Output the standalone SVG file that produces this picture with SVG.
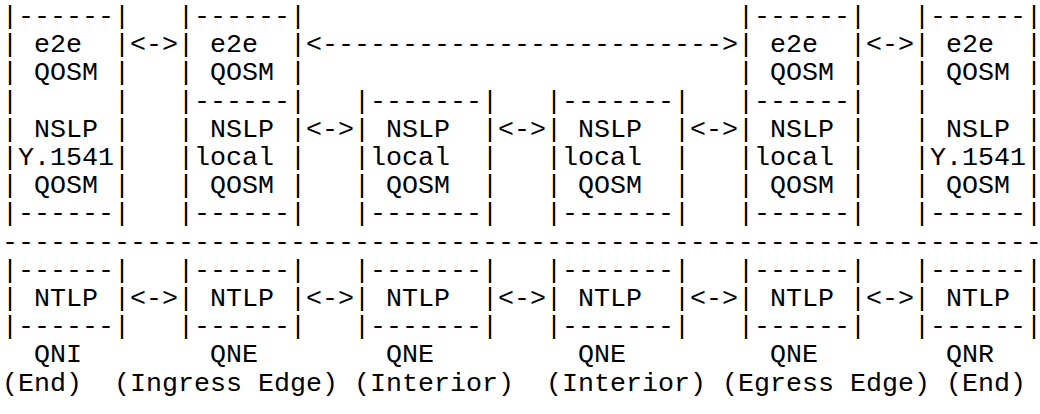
<svg xmlns="http://www.w3.org/2000/svg" width="1040" height="414" viewBox="0 0 1040 414">
<style>
text{font-family:"Liberation Mono","Courier New",monospace;font-size:26.667px;fill:#000;white-space:pre}
</style>
<rect width="1040" height="414" fill="#fff"/>
<g id="qni-qosm" xml:space="preserve">
<text x="2" y="24">|------|</text>
<text x="2" y="52.2">| e2e  |</text>
<text x="2" y="80.4">| QOSM |</text>
<text x="2" y="108.6">|      |</text>
<text x="2" y="136.8">| NSLP |</text>
<text x="2" y="165">|Y.1541|</text>
<text x="2" y="193.2">| QOSM |</text>
<text x="2" y="221.4">|------|</text>
</g>
<g id="qne-ingress-qosm" xml:space="preserve">
<text x="178" y="24">|------|</text>
<text x="178" y="52.2">| e2e  |</text>
<text x="178" y="80.4">| QOSM |</text>
<text x="178" y="108.6">|------|</text>
<text x="178" y="136.8">| NSLP |</text>
<text x="178" y="165">|local |</text>
<text x="178" y="193.2">| QOSM |</text>
<text x="178" y="221.4">|------|</text>
</g>
<g id="qne-interior1-qosm" xml:space="preserve">
<text x="354" y="108.6">|-------|</text>
<text x="354" y="136.8">| NSLP  |</text>
<text x="354" y="165">|local  |</text>
<text x="354" y="193.2">| QOSM  |</text>
<text x="354" y="221.4">|-------|</text>
</g>
<g id="qne-interior2-qosm" xml:space="preserve">
<text x="546" y="108.6">|-------|</text>
<text x="546" y="136.8">| NSLP  |</text>
<text x="546" y="165">|local  |</text>
<text x="546" y="193.2">| QOSM  |</text>
<text x="546" y="221.4">|-------|</text>
</g>
<g id="qne-egress-qosm" xml:space="preserve">
<text x="738" y="24">|------|</text>
<text x="738" y="52.2">| e2e  |</text>
<text x="738" y="80.4">| QOSM |</text>
<text x="738" y="108.6">|------|</text>
<text x="738" y="136.8">| NSLP |</text>
<text x="738" y="165">|local |</text>
<text x="738" y="193.2">| QOSM |</text>
<text x="738" y="221.4">|------|</text>
</g>
<g id="qnr-qosm" xml:space="preserve">
<text x="914" y="24">|------|</text>
<text x="914" y="52.2">| e2e  |</text>
<text x="914" y="80.4">| QOSM |</text>
<text x="914" y="108.6">|      |</text>
<text x="914" y="136.8">| NSLP |</text>
<text x="914" y="165">|Y.1541|</text>
<text x="914" y="193.2">| QOSM |</text>
<text x="914" y="221.4">|------|</text>
</g>
<g id="layer-separator">
<text x="2" y="249.6">-----------------------------------------------------------------</text>
</g>
<g id="qni-ntlp" xml:space="preserve">
<text x="2" y="277.8">|------|</text>
<text x="2" y="306">| NTLP |</text>
<text x="2" y="334.2">|------|</text>
<text x="34" y="362.4">QNI</text>
<text x="2" y="390.6">(End)</text>
</g>
<g id="qne-ingress-ntlp" xml:space="preserve">
<text x="178" y="277.8">|------|</text>
<text x="178" y="306">| NTLP |</text>
<text x="178" y="334.2">|------|</text>
<text x="210" y="362.4">QNE</text>
<text x="114" y="390.6">(Ingress Edge)</text>
</g>
<g id="qne-interior1-ntlp" xml:space="preserve">
<text x="354" y="277.8">|-------|</text>
<text x="354" y="306">| NTLP  |</text>
<text x="354" y="334.2">|-------|</text>
<text x="386" y="362.4">QNE</text>
<text x="354" y="390.6">(Interior)</text>
</g>
<g id="qne-interior2-ntlp" xml:space="preserve">
<text x="546" y="277.8">|-------|</text>
<text x="546" y="306">| NTLP  |</text>
<text x="546" y="334.2">|-------|</text>
<text x="578" y="362.4">QNE</text>
<text x="546" y="390.6">(Interior)</text>
</g>
<g id="qne-egress-ntlp" xml:space="preserve">
<text x="738" y="277.8">|------|</text>
<text x="738" y="306">| NTLP |</text>
<text x="738" y="334.2">|------|</text>
<text x="770" y="362.4">QNE</text>
<text x="722" y="390.6">(Egress Edge)</text>
</g>
<g id="qnr-ntlp" xml:space="preserve">
<text x="914" y="277.8">|------|</text>
<text x="914" y="306">| NTLP |</text>
<text x="914" y="334.2">|------|</text>
<text x="946" y="362.4">QNR</text>
<text x="946" y="390.6">(End)</text>
</g>
<g id="connectors">
<text x="130" y="52.2">&lt;-&gt;</text>
<text x="306" y="52.2">&lt;-------------------------&gt;</text>
<text x="866" y="52.2">&lt;-&gt;</text>
<text x="306" y="136.8">&lt;-&gt;</text>
<text x="498" y="136.8">&lt;-&gt;</text>
<text x="690" y="136.8">&lt;-&gt;</text>
<text x="130" y="306">&lt;-&gt;</text>
<text x="306" y="306">&lt;-&gt;</text>
<text x="498" y="306">&lt;-&gt;</text>
<text x="690" y="306">&lt;-&gt;</text>
<text x="866" y="306">&lt;-&gt;</text>
</g>
</svg>
